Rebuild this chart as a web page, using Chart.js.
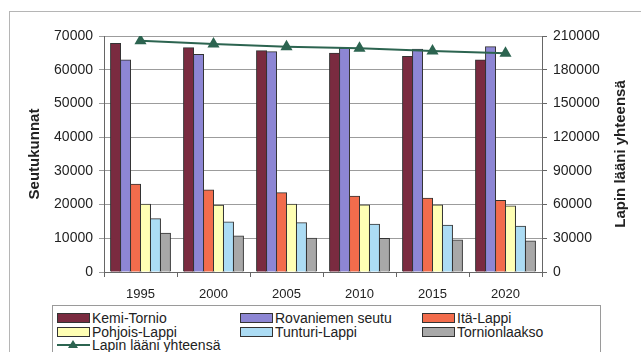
<!DOCTYPE html>
<html>
<head>
<meta charset="utf-8">
<script src="https://cdn.jsdelivr.net/npm/chart.js@4"></script>
<style>
  html, body { margin: 0; padding: 0; background: #fff; overflow: hidden; }
  body { width: 641px; height: 352px; position: relative; font-family: "Liberation Sans", Arial, sans-serif; }
  #marco { position: absolute; left: 9px; top: 11px; width: 680px; height: 400px; border: 1px solid #b5b5b5; }
  #grafico { position: absolute; left: 0; top: 0; }
  #leyenda { position: absolute; left: 52px; top: 305px; width: 547px; height: 60px; border: 1px solid #9a9a9a; background: #fff; }
  .item { position: absolute; font-size: 14px; color: #222; white-space: nowrap; line-height: 14px; }
  .caja { position: absolute; width: 31px; height: 8px; border: 1px solid #333; }
  .linea { position: absolute; width: 33px; height: 2px; }
  .tri { position: absolute; width: 0; height: 0; border-left: 5px solid transparent; border-right: 5px solid transparent; }
</style>
</head>
<body>
<div id="marco"></div>
<canvas id="grafico" width="641" height="352"></canvas>
<div id="leyenda"></div>
<script>
// datos del grafico
const anios = ['1995', '2000', '2005', '2010', '2015', '2020'];

const kemiTornio    = [67800, 66500, 65600, 64900, 63900, 62900];
const rovaniemi     = [62900, 64500, 65300, 66400, 66100, 66800];
const itaLappi      = [26000, 24300, 23500, 22500, 21900, 21200];
const pohjoisLappi  = [20100, 19800, 20100, 19900, 19900, 19600];
const tunturiLappi  = [15800, 14800, 14600, 14200, 13900, 13600];
const tornionlaakso = [11500, 10700, 10000, 9900, 9500, 9200];
const lappiYhteensa = [205800, 202800, 200400, 199000, 196600, 194600];

const ticksIzq = [0, 10000, 20000, 30000, 40000, 50000, 60000, 70000];
const ticksDer = [0, 30000, 60000, 90000, 120000, 150000, 180000, 210000];

const fuente = '"Liberation Sans", Arial, sans-serif';
const colorLinea = '#2c6450';

const barras = [
    { label: 'Kemi-Tornio', data: kemiTornio, color: '#7a2b40' },
    { label: 'Rovaniemen seutu', data: rovaniemi, color: '#8d86d4' },
    { label: 'Itä-Lappi', data: itaLappi, color: '#f26c4c' },
    { label: 'Pohjois-Lappi', data: pohjoisLappi, color: '#ffffb4' },
    { label: 'Tunturi-Lappi', data: tunturiLappi, color: '#acdcf4' },
    { label: 'Tornionlaakso', data: tornionlaakso, color: '#a8a8a8' }
];

const datasets = barras.map(b => ({
    type: 'bar',
    label: b.label,
    data: b.data,
    backgroundColor: b.color,
    borderColor: '#333',
    borderWidth: 1,
    inflateAmount: 0.5,
    categoryPercentage: 0.82,
    barPercentage: 1.0,
    yAxisID: 'y',
    order: 2
}));

datasets.push({
    type: 'line',
    label: 'Lapin lääni yhteensä',
    data: lappiYhteensa,
    borderColor: colorLinea,
    backgroundColor: colorLinea,
    borderWidth: 2,
    pointStyle: 'triangle',
    pointRadius: 5,
    pointBackgroundColor: colorLinea,
    pointBorderColor: colorLinea,
    yAxisID: 'y1',
    order: 1
});

// sin separador de miles
const sinComas = v => String(v);

// titulo del eje derecho (se lee de abajo hacia arriba)
const tituloDerecho = {
    id: 'tituloDerecho',
    afterDraw(chart) {
        const ctx = chart.ctx;
        const a = chart.chartArea;
        ctx.save();
        ctx.translate(621, (a.top + a.bottom) / 2);
        ctx.rotate(-Math.PI / 2);
        ctx.font = 'bold 15px ' + fuente;
        ctx.fillStyle = '#222';
        ctx.textAlign = 'center';
        ctx.textBaseline = 'middle';
        ctx.fillText('Lapin lääni yhteensä', 0, 0);
        ctx.restore();
    }
};

const ctx = document.getElementById('grafico');

new Chart(ctx, {
    data: { labels: anios, datasets: datasets },
    options: {
        responsive: false,
        animation: false,
        layout: { padding: { top: 36, left: 0, right: 0, bottom: 0 } },
        plugins: { legend: { display: false }, tooltip: { enabled: false } },
        scales: {
            x: {
                offset: true,
                grid: { drawOnChartArea: false, offset: true, tickLength: 5, color: '#666' },
                border: { color: '#666' },
                ticks: { color: '#222', font: { family: fuente, size: 13 }, padding: 10 },
                afterFit: s => { s.height = 80; }
            },
            y: {
                position: 'left',
                min: 0, max: 70000,
                afterBuildTicks: s => { s.ticks = ticksIzq.map(v => ({ value: v })); },
                grid: { color: '#9c9c9c', tickLength: 5 },
                border: { color: '#666' },
                ticks: { color: '#222', font: { family: fuente, size: 14 }, padding: 6, callback: sinComas },
                title: { display: true, text: 'Seutukunnat', color: '#222', font: { family: fuente, size: 15, weight: 'bold' }, padding: { top: 26, bottom: 0 } },
                afterFit: s => { s.width = 104; }
            },
            y1: {
                position: 'right',
                min: 0, max: 210000,
                afterBuildTicks: s => { s.ticks = ticksDer.map(v => ({ value: v })); },
                grid: { drawOnChartArea: false, color: '#666', tickLength: 5 },
                border: { color: '#666' },
                ticks: { color: '#222', font: { family: fuente, size: 14 }, padding: 6, callback: sinComas },
                afterFit: s => { s.width = 99; }
            }
        }
    },
    plugins: [tituloDerecho]
});

// leyenda en html, tres columnas
const leyenda = document.getElementById('leyenda');
const colX = [4, 187, 369];
const filaY = [6, 20, 33];
datasets.forEach((d, i) => {
    const col = i % 3, fila = Math.floor(i / 3);
    const x = colX[col], y = filaY[fila];
    if (d.type === 'bar') {
        const c = document.createElement('div');
        c.className = 'caja';
        c.style.left = x + 'px';
        c.style.top = (y + 1) + 'px';
        c.style.background = d.backgroundColor;
        leyenda.appendChild(c);
    } else {
        const l = document.createElement('div');
        l.className = 'linea';
        l.style.left = x + 'px';
        l.style.top = (y + 5) + 'px';
        l.style.background = d.borderColor;
        leyenda.appendChild(l);
        const t = document.createElement('div');
        t.className = 'tri';
        t.style.left = (x + 11) + 'px';
        t.style.top = (y + 1) + 'px';
        t.style.borderBottom = '8px solid ' + d.borderColor;
        leyenda.appendChild(t);
    }
    const s = document.createElement('div');
    s.className = 'item';
    s.style.left = (x + 35) + 'px';
    s.style.top = (y - 1) + 'px';
    s.textContent = d.label;
    leyenda.appendChild(s);
});
</script>
</body>
</html>
